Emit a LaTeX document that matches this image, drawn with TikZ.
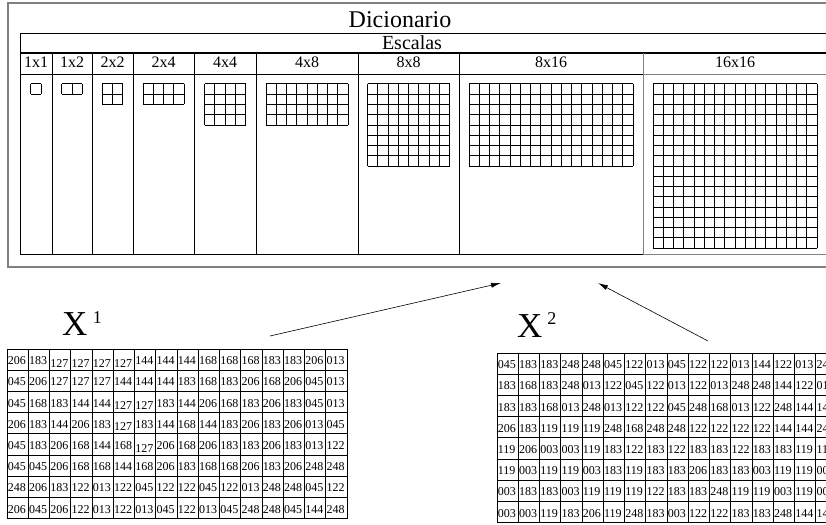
\documentclass[tikz,border=0pt]{standalone}
\usepackage{fontspec}
\setmainfont{Liberation Serif}
\usetikzlibrary{arrows.meta, positioning, calc}

\begin{document}
\begin{tikzpicture}[
    x=1pt, y=-1pt,
    frame/.style={draw=gray, line width=1.6pt},
    rule/.style={draw=black, line width=0.9pt},
    thickrule/.style={draw=black, line width=1.8pt},
    greyrule/.style={draw=gray, line width=0.9pt},
    title/.style={anchor=base, inner sep=0pt, font=\fontsize{24}{24}\selectfont},
    subtitle/.style={anchor=base, inner sep=0pt, font=\fontsize{20}{20}\selectfont},
    scalelabel/.style={anchor=base, inner sep=0pt, font=\fontsize{16}{16}\selectfont},
    cellgrid/.style={draw=black, line width=1pt},
    num/.style={anchor=base west, inner sep=0pt, font=\fontsize{12}{12}\selectfont},
    matlabel/.style={anchor=base west, inner sep=0pt, font=\fontsize{35}{35}\selectfont},
    arrow/.style={-{Latex[length=10pt, width=5pt]}, line width=0.6pt},
]
\useasboundingbox (0,0) rectangle (826,524);
\clip (0,0) rectangle (826,524);

% Dicionario frame
\draw[frame] (8,3) rectangle (850,267);
\node[title] (dicio) at (400,28) {Dicionario};

% Escalas table
\draw[rule] (20,254) -- (20,33) -- (850,33);
\node[subtitle] (escalas) at (412,50) {Escalas};
\draw[thickrule] (20,53) -- (850,53);
\draw[rule] (20,74) -- (643,74);
\draw[rule] (20,254) -- (643,254);
\draw[greyrule] (643,74) -- (850,74);
\draw[greyrule] (643,254) -- (850,254);
\foreach \xb in {52,92,133,194,256,358,459}
    \draw[rule] (\xb,53) -- (\xb,254);
\draw[greyrule] (643,53) -- (643,254);

% one column per scale: centre / rows / cols / label
\def\cs{10.25}
\def\gtop{84}
\foreach \cx/\rows/\cols/\lab [count=\k] in
    {36/1/1/1x1, 72/1/2/1x2, 112.5/2/2/2x2, 163.5/2/4/2x4, 225/4/4/4x4,
     307/4/8/4x8, 408.5/8/8/8x8, 551/8/16/8x16, 735/16/16/16x16} {
    \node[scalelabel] (lab-\k) at (\cx,68) {\lab};
    \pgfmathsetmacro\gl{\cx-\cols*\cs/2}
    \pgfmathsetmacro\gr{\cx+\cols*\cs/2}
    \pgfmathsetmacro\gb{\gtop+\rows*\cs}
    \foreach \i in {0,...,\cols}
        \draw[cellgrid] ({\gl+\i*\cs},\gtop) -- ({\gl+\i*\cs},\gb);
    \foreach \j in {0,...,\rows}
        \draw[cellgrid] (\gl,{\gtop+\j*\cs}) -- (\gr,{\gtop+\j*\cs});
}

% X^1
\node[matlabel] (xalabel) at (62,335) {X\hspace{5.5pt}\raisebox{12pt}{\fontsize{18}{18}\selectfont 1}};
\def\cw{21.25}
\def\rh{21.2}
\def\atop{349}
\def\aleft{7}
\foreach \vals [count=\ri] in {
    {206,183,127,127,127,127,144,144,144,168,168,168,183,183,206,013},
    {045,206,127,127,127,144,144,144,183,168,183,206,168,206,045,013},
    {045,168,183,144,144,127,127,183,144,206,168,183,206,183,045,013},
    {206,183,144,206,183,127,183,144,168,144,183,206,183,206,013,045},
    {045,183,206,168,144,168,127,206,168,206,183,183,206,183,013,122},
    {045,045,206,168,168,144,168,206,183,168,168,206,183,206,248,248},
    {248,206,183,122,013,122,045,122,122,045,122,013,248,248,045,122},
    {206,045,206,122,013,122,013,045,122,013,045,248,248,045,144,248}} {
    \foreach \v [count=\ci] in \vals {
        \ifnum\v=127 \ifnum\ri=2 \def\dy{0}\else\def\dy{2.5}\fi\else\def\dy{0}\fi
        \node[num] (xa-\ri-\ci) at ({\aleft+(\ci-1)*\cw+0.6},{\atop+\ri*\rh-5.5+\dy}) {\v};
    }
}
\foreach \i in {0,...,16}
    \draw[cellgrid] ({\aleft+\i*\cw},\atop) -- ({\aleft+\i*\cw},{\atop+8*\rh});
\foreach \j in {0,...,8}
    \draw[cellgrid] (\aleft,{\atop+\j*\rh}) -- ({\aleft+16*\cw},{\atop+\j*\rh});

% X^2
\node[matlabel] (xblabel) at (517,337) {X\hspace{5pt}\raisebox{13pt}{\fontsize{18}{18}\selectfont 2}};
\def\btop{353}
\def\bleft{497}
\foreach \vals [count=\ri] in {
    {045,183,183,248,248,045,122,013,045,122,122,013,144,122,013,248},
    {183,168,183,248,013,122,045,122,013,122,013,248,248,144,122,013},
    {183,183,168,013,248,013,122,122,045,248,168,013,122,248,144,144},
    {206,183,119,119,119,248,168,248,248,122,122,122,122,144,144,248},
    {119,206,003,003,119,183,122,183,122,183,183,122,183,183,119,119},
    {119,003,119,119,003,183,119,183,183,206,183,183,003,119,119,003},
    {003,183,183,003,119,119,119,122,183,183,248,119,119,003,119,003},
    {003,003,119,183,206,119,248,183,003,122,122,183,183,248,144,144}} {
    \foreach \v [count=\ci] in \vals
        \node[num] (xb-\ri-\ci) at ({\bleft+(\ci-1)*\cw+0.6},{\btop+\ri*\rh-5.5}) {\v};
}
\foreach \i in {0,...,16}
    \draw[cellgrid] ({\bleft+\i*\cw},\btop) -- ({\bleft+\i*\cw},{\btop+8*\rh});
\foreach \j in {0,...,8}
    \draw[cellgrid] (\bleft,{\btop+\j*\rh}) -- ({\bleft+16*\cw},{\btop+\j*\rh});

% arrows into the dictionary
\coordinate (src1) at (270,336);
\coordinate (dst1) at (501,283);
\coordinate (src2) at (708,341);
\coordinate (dst2) at (598,283);
\draw[arrow] (src1) -- (dst1);
\draw[arrow] (src2) -- (dst2);

\end{tikzpicture}
\end{document}
